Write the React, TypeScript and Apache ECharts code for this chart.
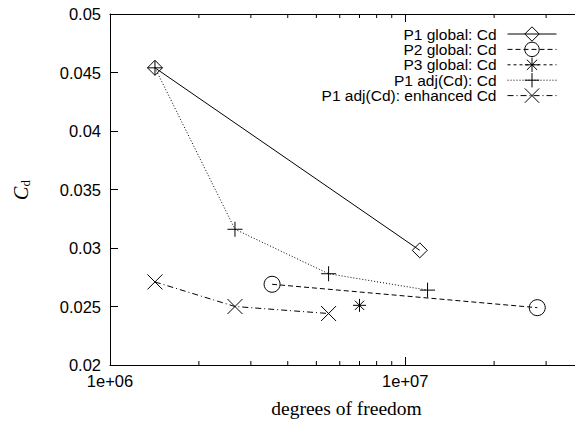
import React, { useEffect, useRef } from "react";
import * as echarts from "echarts";

const p1GlobalDof = [1.42e6, 1.12e7];
const p1GlobalCd = [0.0454, 0.0298];
const p2GlobalDof = [3.54e6, 2.8e7];
const p2GlobalCd = [0.0269, 0.0249];
const p3GlobalDof = [7.0e6];
const p3GlobalCd = [0.0251];
const p1AdjDof = [1.42e6, 2.65e6, 5.5e6, 1.19e7];
const p1AdjCd = [0.0454, 0.0316, 0.0278, 0.0264];
const p1EnhDof = [1.42e6, 2.65e6, 5.5e6];
const p1EnhCd = [0.0271, 0.025, 0.0244];

const seriesNames = [
  "P1 global: Cd",
  "P2 global: Cd",
  "P3 global: Cd",
  "P1 adj(Cd): Cd",
  "P1 adj(Cd): enhanced Cd",
];
const minorTicks = [2e6, 3e6, 4e6, 5e6, 6e6, 7e6, 8e6, 9e6, 2e7, 3e7];

const X_MIN = 1e6;
const X_MAX = 4e7;
const Y_MIN = 0.02;
const Y_MAX = 0.05;

const SANS = "Liberation Sans, Arial, sans-serif";
const SERIF = "Liberation Serif, Times New Roman, serif";

const zip = (xs: number[], ys: number[]) => xs.map((x, i) => [x, ys[i]]);

const PLUS = "path://M7,0L7,14M0,7L14,7";
const CROSS = "path://M0,0L14,14M14,0L0,14";
const STAR = "path://M7,0L7,14M0,7L14,7M2,2L12,12M12,2L2,12";

export default function App() {
  const ref = useRef<HTMLDivElement>(null);
  useEffect(() => {
    if (!ref.current) return;
    const chart = echarts.init(ref.current, null, { renderer: "svg" });
    const mk = (
      name: string,
      data: number[][],
      symbol: string,
      size: number,
      dash: any
    ) => ({
      name,
      type: "line",
      data,
      symbol,
      symbolSize: size,
      showSymbol: true,
      lineStyle: { color: "#000", width: 1, type: dash },
      itemStyle: { color: "transparent", borderColor: "#000", borderWidth: 1 },
      emphasis: { disabled: true },
      z: 3,
    });
    const axisTickStyle = { show: true, inside: true, length: 8, lineStyle: { color: "#000", width: 1 } };
    chart.setOption({
      animation: false,
      backgroundColor: "#fff",
      grid: { left: 110, top: 14, width: 473, height: 351, containLabel: false, outerBoundsMode: "none" },
      xAxis: [
        {
          type: "log",
          logBase: 10,
          min: X_MIN,
          max: X_MAX,
          position: "bottom",
          axisLine: { show: true, lineStyle: { color: "#000", width: 1 } },
          axisTick: axisTickStyle,
          splitLine: { show: false },
          axisLabel: {
            color: "#000",
            fontFamily: SANS,
            fontSize: 16.5,
            margin: 7,
            showMaxLabel: false,
            formatter: (v: number) => {
              const e = Math.round(Math.log10(v));
              return "1e+" + String(e).padStart(2, "0");
            },
          },
          name: "degrees of freedom",
          nameLocation: "middle",
          nameGap: 33,
          nameTextStyle: { color: "#000", fontFamily: SERIF, fontSize: 19.5 },
        },
        {
          type: "log",
          logBase: 10,
          min: X_MIN,
          max: X_MAX,
          position: "top",
          axisLine: { show: true, lineStyle: { color: "#000", width: 1 } },
          axisTick: axisTickStyle,
          splitLine: { show: false },
          axisLabel: { show: false },
        },
      ],
      yAxis: [
        {
          type: "value",
          min: Y_MIN,
          max: Y_MAX,
          interval: 0.005,
          position: "left",
          axisLine: { show: true, lineStyle: { color: "#000", width: 1 } },
          axisTick: axisTickStyle,
          splitLine: { show: false },
          axisLabel: {
            color: "#000",
            fontFamily: SANS,
            fontSize: 16.5,
            margin: 9,
            formatter: (v: number) => String(parseFloat(v.toFixed(3))),
          },
        },
        {
          type: "value",
          min: Y_MIN,
          max: Y_MAX,
          interval: 0.005,
          position: "right",
          axisLine: { show: true, lineStyle: { color: "#000", width: 1 } },
          axisTick: axisTickStyle,
          splitLine: { show: false },
          axisLabel: { show: false },
        },
      ],
      legend: {
        data: seriesNames,
        orient: "vertical",
        align: "right",
        right: 13,
        top: 21,
        itemWidth: 49,
        itemHeight: 18,
        itemGap: -0.6,
        selectedMode: false,
        lineStyle: { width: 1 },
        itemStyle: { borderWidth: 1, borderColor: "#000", color: "transparent" },
        textStyle: { color: "#000", fontFamily: SANS, fontSize: 15.5, lineHeight: 16, padding: [0, 6, 0, 0] },
      },
      graphic: [
        {
          type: "text",
          x: 21,
          y: 190,
          rotation: Math.PI / 2,
          style: {
            text: "{c|C}{d|d}",
            align: "center",
            verticalAlign: "middle",
            rich: {
              c: { fontFamily: SERIF, fontStyle: "italic", fontSize: 20, fill: "#000" },
              d: { fontFamily: SERIF, fontSize: 13, fill: "#000", padding: [8, 0, 0, 0] },
            },
          },
        },
      ],
      series: [
        mk(seriesNames[0], zip(p1GlobalDof, p1GlobalCd), "diamond", 15, "solid"),
        mk(seriesNames[1], zip(p2GlobalDof, p2GlobalCd), "circle", 16, [5, 3]),
        mk(seriesNames[2], zip(p3GlobalDof, p3GlobalCd), STAR, 13, [3, 3]),
        mk(seriesNames[3], zip(p1AdjDof, p1AdjCd), PLUS, 15, [1, 2]),
        mk(seriesNames[4], zip(p1EnhDof, p1EnhCd), CROSS, 15, [6, 3, 1, 3]),
        {
          type: "custom",
          name: "minorTicks",
          data: minorTicks.map((v) => [v, Y_MIN]),
          silent: true,
          z: 2,
          renderItem: (params: any, api: any) => {
            const x = api.coord([api.value(0), Y_MIN])[0];
            const cs = params.coordSys;
            const len = 4;
            return {
              type: "group",
              children: [
                { type: "line", shape: { x1: x, y1: cs.y + cs.height, x2: x, y2: cs.y + cs.height - len }, style: { stroke: "#000", lineWidth: 1 } },
                { type: "line", shape: { x1: x, y1: cs.y, x2: x, y2: cs.y + len }, style: { stroke: "#000", lineWidth: 1 } },
              ],
            };
          },
        },
      ],
    });
    return () => chart.dispose();
  }, []);
  return (
    <div
      ref={ref}
      style={{ position: "absolute", left: 0, top: 0, width: 575, height: 423, background: "#fff" }}
    />
  );
}
